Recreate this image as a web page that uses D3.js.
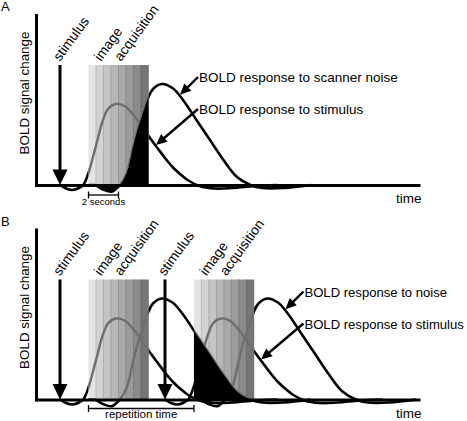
<!DOCTYPE html>
<html><head><meta charset="utf-8">
<script src="https://cdn.jsdelivr.net/npm/d3@7"></script>
<style>body{margin:0;background:#fff}svg{display:block}</style>
</head><body><svg id="c" width="467" height="421"></svg>
<script>
// ---------- data (times in seconds, signal in arbitrary units) ----------
const panelNames = ["A", "B"];
const stimulusOnsets = [[0], [0, 7]];
const acquisitionStarts = [[1.9], [1.9, 8.93]];
const acquisitionDuration = 4;
const sliceShades = ["#e4e4e4", "#d3d3d3", "#c5c5c5", "#b7b7b7", "#a9a9a9", "#9b9b9b", "#8b8b8b", "#767676"];
// BOLD response to the stimulus (time after stimulus onset)
const stimRespTime  = [0, 0.4, 0.8, 1.2, 1.55, 1.9, 2.2, 2.5, 2.8, 3.2, 3.7, 4.3, 4.9, 5.5, 6.0, 6.5, 7.0, 7.5, 8.0, 8.5, 9.3, 10.3, 11.5, 13, 14.5];
const stimRespValue = [0, -0.035, -0.05, -0.035, 0, 0.12, 0.28, 0.45, 0.62, 0.76, 0.81, 0.79, 0.70, 0.58, 0.47, 0.37, 0.27, 0.18, 0.11, 0.05, -0.01, -0.035, -0.03, -0.01, 0];
// BOLD response to scanner noise (time after start of image acquisition)
const noiseRespTime  = [0, 0.43, 0.97, 1.55, 1.9, 2.1, 2.55, 3.0, 3.3, 3.63, 3.97, 4.3, 4.88, 5.6, 6.3, 7.2, 8.1, 9.0, 9.9, 10.8, 11.6, 13.0, 14.8];
const noiseRespValue = [0, 0, -0.045, -0.067, -0.03, 0, 0.12, 0.40, 0.57, 0.72, 0.87, 0.96, 1.01, 0.97, 0.85, 0.65, 0.45, 0.25, 0.08, 0, -0.03, -0.03, 0];
// which noise response is shaded black, and inside which acquisition window
const shadedNoiseSource = [0, 0];
const shadedNoiseWindow = [0, 1];
const noiseLabels = ["BOLD response to scanner noise", "BOLD response to noise"];
const stimLabels = ["BOLD response to stimulus", "BOLD response to stimulus"];
const bracketLabels = ["2 seconds", "repetition time"];
const bracketSpans = [[1.9, 3.9], [1.9, 8.93]];
const yAxisLabel = "BOLD signal change";
const xAxisLabel = "time";
const stimulusText = "stimulus";
const acquisitionText = ["image", "acquisition"];

// ---------- drawing ----------
const FONT = "'Liberation Sans', Arial, Helvetica, sans-serif";
const svg = d3.select("#c");
const defs = svg.append("defs");
const x = d3.scaleLinear().domain([-1.6, 24]).range([36, 420]);
const baselines = [185, 399.5];
const stimAt = d3.scaleLinear().domain(stimRespTime).range(stimRespValue).clamp(true);
const noiseAt = d3.scaleLinear().domain(noiseRespTime).range(noiseRespValue).clamp(true);
const curve = d3.curveCatmullRom.alpha(0.5);

function arrow(g, x1, y1, x2, y2, len, hw, sw) {
  const dx = x2 - x1, dy = y2 - y1, L = Math.hypot(dx, dy);
  const ux = dx / L, uy = dy / L;
  const bx = x2 - ux * len, by = y2 - uy * len;
  g.append("line").attr("x1", x1).attr("y1", y1).attr("x2", bx + ux * 1).attr("y2", by + uy * 1)
    .attr("stroke", "#000").attr("stroke-width", sw);
  g.append("path").attr("d", `M${x2},${y2}L${bx - uy * hw},${by + ux * hw}L${bx + uy * hw},${by - ux * hw}Z`)
    .attr("fill", "#000");
}

panelNames.forEach((name, p) => {
  const yb = baselines[p];
  const y = d3.scaleLinear().domain([0, 1]).range([yb, yb - 100]);
  const g = svg.append("g");
  const stims = stimulusOnsets[p];
  const acqs = acquisitionStarts[p];
  const dur = acquisitionDuration;

  const stimCurves = stims.map(s => stimRespTime.map((t, i) => [s + t, stimRespValue[i]]));
  const noiseCurves = acqs.map(a => noiseRespTime.map((t, i) => [a + t, noiseRespValue[i]]));
  const allCurves = stimCurves.concat(noiseCurves);

  const line = d3.line().x(d => x(d[0])).y(d => y(d[1])).curve(curve);
  const area = d3.area().x(d => x(d[0])).y0(y(0)).y1(d => y(d[1])).curve(curve);

  // black responses
  g.append("g").selectAll("path").data(allCurves).join("path")
    .attr("d", line).attr("fill", "none").attr("stroke", "#000").attr("stroke-width", 2.6);

  // acquisition blocks
  const top = y(1.2);
  const blockClip = defs.append("clipPath").attr("id", "blk" + p);
  blockClip.selectAll("rect").data(acqs).join("rect")
    .attr("x", a => x(a)).attr("y", top).attr("width", a => x(a + dur) - x(a)).attr("height", yb - top);
  acqs.forEach(a => {
    const bg = g.append("g");
    const n = sliceShades.length;
    bg.selectAll("rect").data(sliceShades).join("rect")
      .attr("x", (c, i) => x(a + i * dur / n)).attr("y", top)
      .attr("width", (c, i) => x(a + (i + 1) * dur / n) - x(a + i * dur / n) + 0.3)
      .attr("height", yb - top).attr("fill", c => c);
    bg.selectAll("line").data(sliceShades.slice(1)).join("line")
      .attr("x1", (c, i) => x(a + (i + 1) * dur / n)).attr("x2", (c, i) => x(a + (i + 1) * dur / n))
      .attr("y1", top).attr("y2", yb)
      .attr("stroke", c => d3.color(c).darker(0.5)).attr("stroke-width", 0.8);
  });
  // responses seen through the blocks
  g.append("g").attr("clip-path", `url(#blk${p})`).selectAll("path").data(allCurves).join("path")
    .attr("d", line).attr("fill", "none").attr("stroke", "#6e6e6e").attr("stroke-width", 2.4);

  // shaded noise response
  const w = acqs[shadedNoiseWindow[p]];
  const fillClip = defs.append("clipPath").attr("id", "fill" + p);
  fillClip.append("rect").attr("x", x(w)).attr("y", top - 50).attr("width", x(w + dur) - x(w)).attr("height", yb - top + 70);
  g.append("path").datum(noiseCurves[shadedNoiseSource[p]])
    .attr("d", area).attr("fill", "#000").attr("clip-path", `url(#fill${p})`);

  // axes
  const xa = g.append("g").attr("transform", `translate(0,${yb})`)
    .call(d3.axisBottom(x).tickValues([]).tickSizeOuter(0));
  const ys = d3.scaleLinear().domain([0, 1.7]).range([yb, yb - 170]);
  const ya = g.append("g").attr("transform", `translate(36,0)`)
    .call(d3.axisLeft(ys).tickValues([]).tickSizeOuter(0));
  [xa, ya].forEach(a => a.select(".domain").attr("stroke", "#000").attr("stroke-width", 3).attr("stroke-linecap", "square"));
  xa.select(".domain").attr("stroke-linecap", "butt");

  // stimulus arrows
  stims.forEach(s => {
    const sx = x(s);
    g.append("line").attr("x1", sx).attr("x2", sx).attr("y1", top).attr("y2", yb - 13)
      .attr("stroke", "#000").attr("stroke-width", 3);
    g.append("path").attr("d", `M${sx - 7.5},${yb - 15.5}L${sx + 7.5},${yb - 15.5}L${sx},${yb}Z`).attr("fill", "#000");
    g.append("text").attr("transform", `translate(${sx},${yb - 123}) rotate(-54)`)
      .attr("font-family", FONT).attr("font-size", 13.8).text(stimulusText);
  });
  acqs.forEach(a => {
    acquisitionText.forEach((t, i) => {
      g.append("text").attr("transform", `translate(${x(a) + 12.5 + 20 * i},${yb - 123}) rotate(-54)`)
        .attr("font-family", FONT).attr("font-size", 13.8).text(t);
    });
  });

  // panel letter and axis labels
  g.append("text").attr("x", 1).attr("y", yb - 174).attr("font-family", FONT).attr("font-size", 13).text(name);
  g.append("text").attr("transform", `translate(29,${yb - 92}) rotate(-90)`).attr("text-anchor", "middle")
    .attr("font-family", FONT).attr("font-size", 13.4).text(yAxisLabel);
  g.append("text").attr("x", 396).attr("y", yb + 18).attr("font-family", FONT).attr("font-size", 13.5).text(xAxisLabel);

  // response labels with arrows
  const lastAcq = acqs[acqs.length - 1], lastStim = stims[stims.length - 1];
  const lx = x(lastAcq + dur) + 50.5;
  const fs = p === 0 ? 13.5 : 13.1;
  const labelRows = [
    { text: noiseLabels[p], by: yb - 103, tx: x(lastAcq + 6.0), ty: y(noiseAt(6.0)) - 1 },
    { text: stimLabels[p], by: yb - 71, tx: x(lastStim + 6.3), ty: y(stimAt(6.3)) }
  ];
  labelRows.forEach(r => {
    g.append("text").attr("x", lx).attr("y", r.by).attr("font-family", FONT).attr("font-size", fs).text(r.text);
    arrow(g, lx - 1, r.by - 5, r.tx + 1.5, r.ty + 1, 11, 5, 2.4);
  });

  // bracket
  const [b0, b1] = bracketSpans[p];
  const byy = p === 0 ? yb + 10 : yb + 9;
  const br = g.append("g").attr("stroke", "#000").attr("stroke-width", 1.3);
  br.append("line").attr("x1", x(b0)).attr("x2", x(b1)).attr("y1", byy).attr("y2", byy);
  [b0, b1].forEach(b => br.append("line").attr("x1", x(b)).attr("x2", x(b)).attr("y1", byy - 3.5).attr("y2", byy + 3.5));
  g.append("text").attr("x", (x(b0) + x(b1)) / 2).attr("y", p === 0 ? yb + 20 : yb + 18)
    .attr("text-anchor", "middle").attr("font-family", FONT).attr("font-size", p === 0 ? 9.5 : 11.5)
    .text(bracketLabels[p]);
});
</script></body></html>
